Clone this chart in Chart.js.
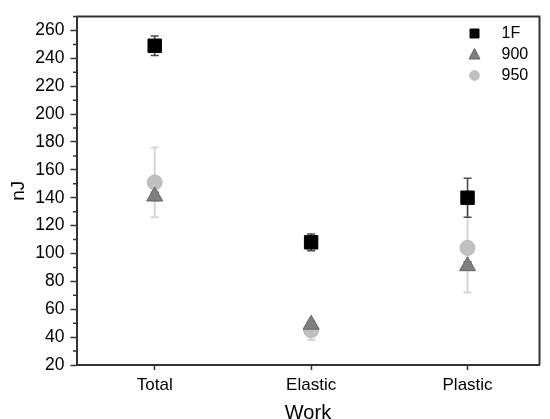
<!DOCTYPE html>
<html><head><meta charset="utf-8">
<script src="https://cdn.jsdelivr.net/npm/chart.js@4"></script>
<style>html,body{margin:0;padding:0;background:#fff}#wrap{width:550px;height:419px;position:relative}</style>
</head><body><div id="wrap"><canvas id="c"></canvas></div>
<script>
const categories = ['Total', 'Elastic', 'Plastic'];
const seriesNames = ['1F', '900', '950'];
const values1F = [249, 108, 140];
const errors1F = [7, 6, 14];
const values900 = [141, 49, 91];
const errors900 = [3, 2, 3];
const values950 = [151, 45, 104];
const errors950 = [25, 7, 32];
const yTickValues = [20, 40, 60, 80, 100, 120, 140, 160, 180, 200, 220, 240, 260];
const yMinorTickValues = [30, 50, 70, 90, 110, 130, 150, 170, 190, 210, 230, 250, 270];

const FONT = "'Liberation Sans', Arial, sans-serif";
const pts = vals => vals.map((v, i) => ({x: i + 1, y: v}));

const datasets = [
  {label: seriesNames[0], data: pts(values1F), err: errors1F, errColor: '#4a4a4a', errWidth: 1.6,
   pointStyle: 'rect', pointRadius: 9.5, backgroundColor: '#000000', borderColor: '#000000', borderWidth: 1,
   legendStyle: 'rect'},
  {label: seriesNames[1], data: pts(values900), err: errors900, errColor: '#5a5a5a', errWidth: 1.5,
   pointStyle: 'triangle', pointRadius: 9.3, backgroundColor: '#7f7f7f', borderColor: '#666666', borderWidth: 1,
   legendStyle: 'triangle'},
  {label: seriesNames[2], data: pts(values950), err: errors950, errColor: '#d6d6d6', errWidth: 2,
   pointStyle: 'circle', pointRadius: 7.5, backgroundColor: '#c0c0c0', borderColor: '#b8b8b8', borderWidth: 1,
   legendStyle: 'circle'}
];

const extras = {
  id: 'extras',
  beforeDatasetsDraw(chart) {
    const ctx = chart.ctx, xs = chart.scales.x, ys = chart.scales.y;
    for (let d = chart.data.datasets.length - 1; d >= 0; d--) {
      const ds = chart.data.datasets[d];
      ctx.save();
      ctx.strokeStyle = ds.errColor; ctx.lineWidth = ds.errWidth;
      ds.data.forEach((p, i) => {
        const x = xs.getPixelForValue(p.x);
        const yt = ys.getPixelForValue(p.y + ds.err[i]);
        const yb = ys.getPixelForValue(p.y - ds.err[i]);
        ctx.beginPath();
        ctx.moveTo(x, yt); ctx.lineTo(x, yb);
        ctx.moveTo(x - 4, yt); ctx.lineTo(x + 4, yt);
        ctx.moveTo(x - 4, yb); ctx.lineTo(x + 4, yb);
        ctx.stroke();
      });
      ctx.restore();
    }
  },
  afterDraw(chart) {
    const ctx = chart.ctx, a = chart.chartArea, ys = chart.scales.y;
    ctx.save();
    ctx.strokeStyle = '#333'; ctx.lineWidth = 2;
    ctx.beginPath();
    ctx.moveTo(a.left, a.top); ctx.lineTo(a.right, a.top); ctx.lineTo(a.right, a.bottom);
    ctx.stroke();
    // minor ticks
    ctx.lineWidth = 1.5;
    ctx.beginPath();
    yMinorTickValues.forEach(v => {
      const y = ys.getPixelForValue(v);
      ctx.moveTo(a.left - 3.5, y); ctx.lineTo(a.left, y);
    });
    ctx.stroke();
    // legend
    const lx = 474.5, ly0 = 33.5, step = 21;
    chart.data.datasets.forEach((ds, i) => {
      const y = ly0 + i * step;
      ctx.fillStyle = ds.backgroundColor;
      ctx.strokeStyle = ds.borderColor; ctx.lineWidth = 1;
      ctx.beginPath();
      if (ds.legendStyle === 'rect') {
        ctx.rect(lx - 4.5, y - 4.5, 9, 9);
      } else if (ds.legendStyle === 'triangle') {
        ctx.moveTo(lx, y - 6); ctx.lineTo(lx + 5.5, y + 4.5); ctx.lineTo(lx - 5.5, y + 4.5); ctx.closePath();
      } else {
        ctx.arc(lx, y, 4.8, 0, Math.PI * 2);
      }
      ctx.fill(); ctx.stroke();
      ctx.fillStyle = '#000';
      ctx.font = '16px ' + FONT;
      ctx.textBaseline = 'middle'; ctx.textAlign = 'left';
      ctx.fillText(ds.label, 501.5, y + 0.5);
    });
    ctx.restore();
  }
};

new Chart(document.getElementById('c'), {
  type: 'scatter',
  data: {datasets},
  options: {
    responsive: true, maintainAspectRatio: false, animation: false, events: [],
    layout: {padding: {top: 14, right: 2, left: 0, bottom: 0}},
    plugins: {legend: {display: false}, tooltip: {enabled: false}},
    scales: {
      x: {
        type: 'linear', min: 0.5, max: 3.46,
        afterBuildTicks: s => { s.ticks = categories.map((c, i) => ({value: i + 1})); },
        afterFit: s => { s.height = 54; },
        ticks: {callback: v => categories[v - 1] || '', color: '#000', font: {family: FONT, size: 17}, padding: 5, autoSkip: false, maxRotation: 0},
        grid: {drawOnChartArea: false, drawTicks: true, tickLength: 5, color: '#333', tickWidth: 1.5},
        border: {display: true, color: '#333', width: 2},
        title: {display: true, text: 'Work', color: '#000', font: {family: FONT, size: 20, lineHeight: 0.6}, padding: 0}
      },
      y: {
        min: 20, max: 270,
        afterBuildTicks: s => { s.ticks = yTickValues.map(v => ({value: v})); },
        afterFit: s => { s.width = 76.5; },
        ticks: {color: '#000', font: {family: FONT, size: 17.5}, padding: 6},
        grid: {drawOnChartArea: false, drawTicks: true, tickLength: 6, color: '#333', tickWidth: 1.5},
        border: {display: true, color: '#333', width: 2},
        title: {display: true, text: 'nJ', color: '#000', font: {family: FONT, size: 19, lineHeight: 2.0}, padding: 0}
      }
    }
  },
  plugins: [extras]
});
</script></body></html>
